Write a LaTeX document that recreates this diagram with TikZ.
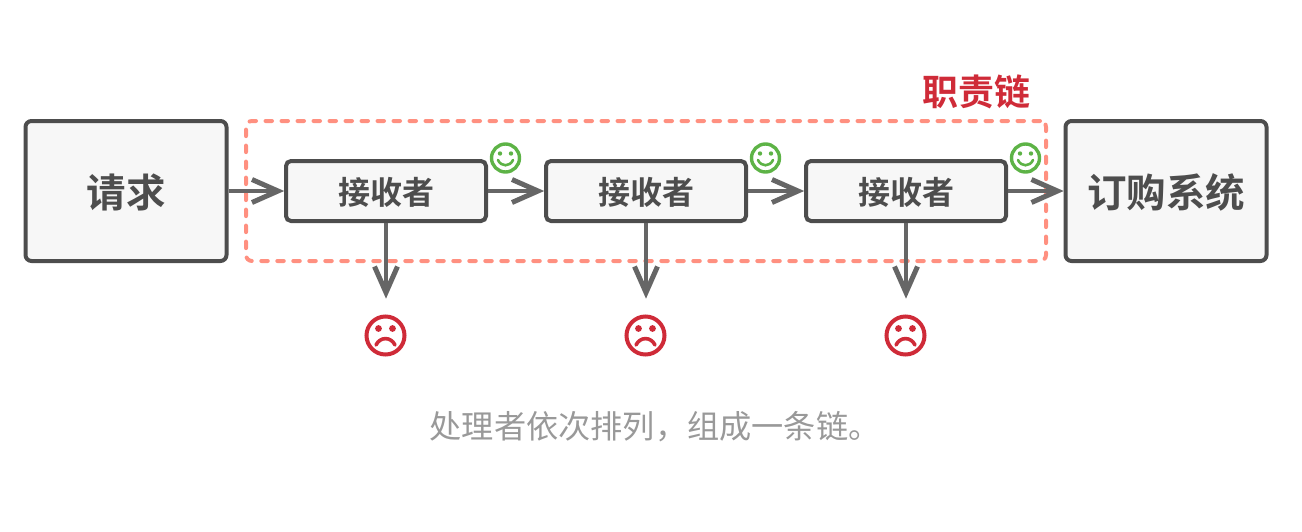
\documentclass[tikz,border=0pt]{standalone}
\usepackage{fontspec}
\setmainfont{Noto Sans CJK SC}
\newfontfamily\cjkbold{Noto Sans CJK SC Bold}
\usetikzlibrary{arrows.meta}
\definecolor{boxline}{HTML}{4D4D4D}
\definecolor{boxfill}{HTML}{F7F7F7}
\definecolor{arrowgray}{HTML}{666666}
\definecolor{dashred}{HTML}{FF9080}
\definecolor{sadred}{HTML}{CF2B38}
\definecolor{happygreen}{HTML}{5DB346}
\definecolor{capgray}{HTML}{999999}
\pgfdeclarearrow{
  name=OpenVee,
  setup code={%
    \pgfarrowssettipend{0pt}%
    \pgfarrowssetlineend{-7pt}%
    \pgfarrowssetvisualbackend{-33pt}%
    \pgfarrowssetbackend{-33pt}%
    \pgfarrowshullpoint{0pt}{0pt}%
    \pgfarrowshullpoint{-33pt}{13pt}%
    \pgfarrowshullpoint{-33pt}{-13pt}%
  },
  drawing code={%
    \pgfsetlinewidth{5pt}%
    \pgfsetmiterjoin
    \pgfsetbuttcap
    \pgfpathmoveto{\pgfqpoint{-32pt}{11.5pt}}%
    \pgfpathlineto{\pgfqpoint{-6pt}{0pt}}%
    \pgfpathlineto{\pgfqpoint{-32pt}{-11.5pt}}%
    \pgfusepathqstroke
  }
}
\tikzset{
  x=1pt,y=-1pt,
  bigbox/.style={draw=boxline,fill=boxfill,line width=4pt,rounded corners=6pt,minimum width=201pt,minimum height=140pt,inner sep=0pt,font=\cjkbold\fontsize{39.5}{40}\selectfont,text=boxline},
  recvbox/.style={draw=boxline,fill=boxfill,line width=4pt,rounded corners=5pt,minimum width=200pt,minimum height=60pt,inner sep=0pt,font=\cjkbold\fontsize{32}{32}\selectfont,text=boxline},
  flow/.style={draw=arrowgray,line width=4pt,-OpenVee},
}
\newcommand{\dropped}[1]{\raisebox{-1.5pt}[\height][\depth]{#1}}
\newcommand{\happyface}[2]{%
  \node[circle,draw=happygreen,line width=3.4pt,minimum size=28pt,inner sep=0pt] (#1) at (#2) {};
  \fill[happygreen] (#1.center) ++(-5.5,-4.5) circle (2.2pt) (#1.center) ++(5.5,-4.5) circle (2.2pt);
  \draw[happygreen,line width=2.6pt,line cap=round] (#1.center) ++(-7.5,2) .. controls +(3,7) and +(-3,7) .. +(15,0);
}
\newcommand{\sadface}[2]{%
  \node[circle,draw=sadred,line width=4pt,minimum size=38pt,inner sep=0pt] (#1) at (#2) {};
  \fill[sadred] (#1.center) ++(-7,-7) circle (3.4pt) (#1.center) ++(7,-7) circle (3.4pt);
  \draw[sadred,line width=3.6pt,line cap=round] (#1.center) ++(-9.5,9.5) .. controls +(4,-8.5) and +(-4,-8.5) .. +(19,0);
}
\begin{document}
\begin{tikzpicture}
\useasboundingbox (0,0) rectangle (1302,531);
\node[bigbox] (req) at (126,191) {\dropped{请求}};
\node[bigbox] (order) at (1166,191) {\dropped{订购系统}};
\node[recvbox] (r1) at (386,191) {\dropped{接收者}};
\node[recvbox] (r2) at (646,191) {\dropped{接收者}};
\node[recvbox] (r3) at (906,191) {\dropped{接收者}};
\node[draw=dashred,line width=4pt,line cap=round,dash pattern=on 6.5pt off 9.5pt,rounded corners=6pt,minimum width=800pt,minimum height=140pt,inner sep=0pt] (chain) at (646,191) {};
\node[text=sadred,font=\cjkbold\fontsize{36}{36}\selectfont,anchor=center] (chainlabel) at (976,92) {职责链};
\coordinate (s1) at (386,298.5);
\coordinate (s2) at (646,298.5);
\coordinate (s3) at (906,298.5);
\draw[flow] (req.east) -- (r1.west);
\draw[flow] (r1.east) -- (r2.west);
\draw[flow] (r2.east) -- (r3.west);
\draw[flow] (r3.east) -- (order.west);
\draw[flow] (r1.south) -- (s1);
\draw[flow] (r2.south) -- (s2);
\draw[flow] (r3.south) -- (s3);
\happyface{h1}{505.5,158}
\happyface{h2}{765.5,158}
\happyface{h3}{1025.5,158}
\sadface{f1}{385.5,335.5}
\sadface{f2}{645.5,335.5}
\sadface{f3}{905.5,335.5}
\node[text=capgray,font=\fontsize{32.2}{32}\selectfont] (caption) at (655,426.5) {处理者依次排列，组成一条链。};
\end{tikzpicture}
\end{document}
